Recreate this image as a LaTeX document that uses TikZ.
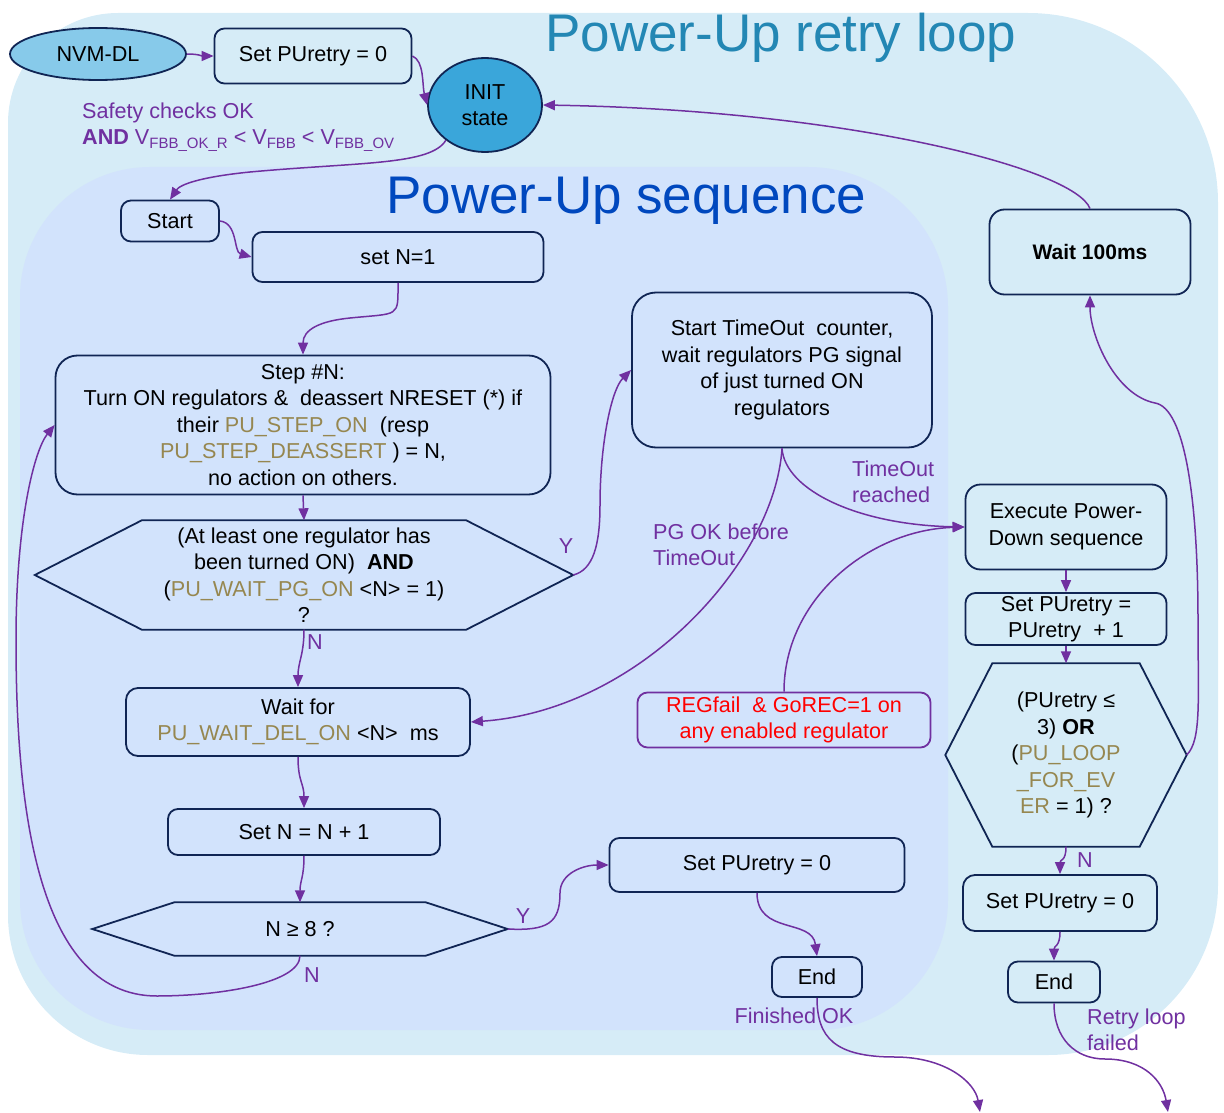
\documentclass[tikz,border=0pt]{standalone}
\usepackage{fontspec}
\setmainfont{Liberation Sans}
\usetikzlibrary{arrows.meta,calc,shapes.geometric}
\definecolor{outerbg}{RGB}{214,236,247}
\definecolor{innerbg}{RGB}{210,227,252}
\definecolor{navy}{RGB}{16,37,84}
\definecolor{purp}{RGB}{112,48,160}
\definecolor{olivetxt}{RGB}{150,135,80}
\definecolor{nvmfill}{RGB}{135,202,234}
\definecolor{initfill}{RGB}{58,166,218}
\definecolor{titleA}{RGB}{35,135,180}
\definecolor{titleB}{RGB}{0,72,190}
\newcommand\ol[1]{\textcolor{olivetxt}{#1}}
\newcommand\sbs[1]{\raisebox{-0.35ex}{\fontsize{15}{15}\selectfont #1}}
\begin{document}
\begin{tikzpicture}[x=1pt,y=-1pt,
  txt/.style={font=\fontsize{21.6}{26.5}\selectfont, align=center, inner sep=0pt},
  box/.style={txt, draw=navy, line width=1.8pt, rounded corners=10pt},
  hexline/.style={draw=navy, line width=1.8pt, line join=miter},
  lbl/.style={font=\fontsize{21.6}{26.5}\selectfont, text=purp, inner sep=0pt},
  conn/.style={draw=purp, line width=1.5pt, -{Triangle[length=12pt,width=10pt]}},
  title/.style={anchor=base west, inner sep=0pt, font=\fontsize{53}{60}\selectfont}
]
\useasboundingbox (0,0) rectangle (1224,1113);
% background regions
\fill[outerbg] (8,123) .. controls (8,62.3) and (57.3,13) .. (118,13) -- (1028,13)
  .. controls (1132.9,13) and (1218,98.1) .. (1218,203) -- (1218,885)
  .. controls (1218,978.8) and (1141.8,1055) .. (1048,1055) -- (148,1055)
  .. controls (70.7,1055) and (8,992.3) .. (8,915) -- cycle;
\fill[innerbg] (20,297) .. controls (20,225.2) and (78.2,167) .. (150,167) -- (808,167)
  .. controls (885.3,167) and (948,229.7) .. (948,307) -- (948,900)
  .. controls (948,971.8) and (889.8,1030) .. (818,1030) -- (150,1030)
  .. controls (78.2,1030) and (20,971.8) .. (20,900) -- cycle;
% titles
\node[title, text=titleA] (ttlA) at (545,52) {Power-Up retry loop};
\node[title, text=titleB] (ttlB) at (386,213) {Power-Up sequence};
% nodes
\node[box, ellipse, fill=nvmfill, minimum width=176pt, minimum height=52pt] (nvm) at (98,54) {NVM-DL};
\node[box, fill=outerbg, minimum width=197pt, minimum height=55pt] (set0) at (313,56) {Set PUretry = 0};
\node[box, ellipse, fill=initfill, minimum width=114pt, minimum height=94pt] (init) at (485,105) {INIT\\state};
\node[lbl, anchor=west, align=left] (safety) at (82,127) {Safety checks OK\\\textbf{AND} V\sbs{FBB\_OK\_R} < V\sbs{FBB} < V\sbs{FBB\_OV}};
\node[box, fill=innerbg, minimum width=98pt, minimum height=41pt] (start) at (170,221) {Start};
\node[box, fill=innerbg, minimum width=291pt, minimum height=50pt] (setn) at (398,257) {set N=1};
\node[box, fill=innerbg, rounded corners=22pt, minimum width=495pt, minimum height=139pt] (step) at (303,425)
  {Step \#N:\\Turn ON regulators \&~ deassert NRESET (*) if\\their \ol{PU\_STEP\_ON}~ (resp\\\ol{PU\_STEP\_DEASSERT}~) = N,\\no action on others.};
\node[txt, minimum width=538pt, minimum height=109pt] (hex1) at (304,575)
  {(At least one regulator has\\been turned ON)~ \textbf{AND}\\(\ol{PU\_WAIT\_PG\_ON} <N> = 1)\\?};
\draw[hexline] (hex1.west) -- ($(hex1.north west)+(107,0)$) -- ($(hex1.north east)+(-107,0)$) -- (hex1.east)
  -- ($(hex1.south east)+(-107,0)$) -- ($(hex1.south west)+(107,0)$) -- cycle;
\node[box, fill=innerbg, rounded corners=24pt, minimum width=300pt, minimum height=155pt] (timeout) at (782,370)
  {Start TimeOut~ counter,\\wait regulators PG signal\\of just turned ON\\regulators};
\node[box, fill=innerbg, rounded corners=12pt, minimum width=344pt, minimum height=68pt] (waitfor) at (298,722)
  {Wait for\\\ol{PU\_WAIT\_DEL\_ON} <N>~ ms};
\node[box, fill=innerbg, minimum width=272pt, minimum height=46pt] (setnn) at (304,832) {Set N = N + 1};
\node[txt, minimum width=415pt, minimum height=53pt] (hex2) at (300,929) {N ≥ 8 ?};
\draw[hexline] (hex2.west) -- ($(hex2.north west)+(82,0)$) -- ($(hex2.north east)+(-82,0)$) -- (hex2.east)
  -- ($(hex2.south east)+(-82,0)$) -- ($(hex2.south west)+(82,0)$) -- cycle;
\node[box, fill=innerbg, minimum width=295pt, minimum height=54pt] (set0b) at (757,865) {Set PUretry = 0};
\node[box, fill=innerbg, minimum width=90pt, minimum height=40pt] (end1) at (817,977) {End};
\node[box, fill=innerbg, draw=purp, text=red, minimum width=293pt, minimum height=55pt] (regfail) at (784,720)
  {REGfail~ \& GoREC=1 on\\any enabled regulator};
\node[box, fill=outerbg, rounded corners=15pt, minimum width=201pt, minimum height=85pt,
  font=\fontsize{21}{26.5}\selectfont\bfseries] (wait100) at (1090,252) {Wait 100ms};
\node[box, fill=outerbg, rounded corners=15pt, minimum width=201pt, minimum height=85pt] (exec) at (1066,527)
  {Execute Power-\\Down sequence};
\node[box, fill=outerbg, minimum width=201pt, minimum height=52pt] (setp1) at (1066,619) {Set PUretry =\\PUretry~ + 1};
\node[txt, minimum width=241pt, minimum height=183pt] (hex3) at (1066,755)
  {(PUretry ≤\\3) \textbf{OR}\\(\ol{PU\_LOOP}\\\ol{\_FOR\_EV}\\\ol{ER} = 1) ?};
\draw[hexline] (hex3.west) -- ($(hex3.north west)+(47,0)$) -- ($(hex3.north east)+(-47,0)$) -- (hex3.east)
  -- ($(hex3.south east)+(-47,0)$) -- ($(hex3.south west)+(47,0)$) -- cycle;
\node[box, fill=outerbg, rounded corners=12pt, minimum width=194pt, minimum height=56pt] (set0r) at (1060,903) {Set PUretry = 0};
\node[box, fill=outerbg, minimum width=92pt, minimum height=41pt] (end2) at (1054,982) {End};
\coordinate (exit1) at (980,1112);
\coordinate (exit2) at (1168,1112);
% labels
\node[lbl] (y1) at (566,546) {Y};
\node[lbl] (n1) at (315,642) {N};
\node[lbl, anchor=west, align=left] (pgok) at (653,545) {PG OK before\\TimeOut};
\node[lbl, anchor=west, align=left] (toreach) at (852,482) {TimeOut\\reached};
\node[lbl] (y2) at (523,916) {Y};
\node[lbl] (n2) at (312,975) {N};
\node[lbl] (finok) at (794,1016) {Finished OK};
\node[lbl, anchor=west, align=left] (rfail) at (1087,1030) {Retry loop\\failed};
\node[lbl] (n3) at (1085,860) {N};
% connectors
\draw[conn] (nvm.east) .. controls +(12,0) and +(-12,0) .. (set0.west);
\draw[conn] (set0.east) .. controls +(12,5) and +(-5,-20) .. (init.west);
\draw[conn] (init.222) .. controls +(-15,25) and +(110,-10) .. (250,172) .. controls +(-50,5) and +(10,-15) .. (start.north);
\draw[conn] (wait100.north) .. controls +(-15,-40) and +(305,5) .. (init.east);
\draw[conn] (start.east) .. controls +(18,2) and +(-18,-5) .. (setn.west);
\draw[conn] (setn.south) .. controls +(0,35) and +(50,-5) .. (350,318) .. controls +(-30,3) and +(0,-25) .. (step.north);
\draw[conn] (step.south) -- (hex1.north);
\draw[conn] (hex1.east) .. controls +(20,-5) and +(0,40) .. (600,505) .. controls +(0,-60) and +(-20,20) .. (timeout.west);
\draw[conn] (hex1.south) .. controls +(0,25) and +(0,-25) .. (waitfor.north);
\draw[conn] (timeout.south) .. controls +(-7,112) and +(170,-12) .. (waitfor.east);
\draw[conn] (timeout.south) .. controls +(3,42) and +(-106,-2) .. (exec.west);
\draw[conn] (regfail.north) .. controls +(0,-92) and +(-96,3) .. (exec.west);
\draw[conn] (waitfor.south) .. controls +(0,25) and +(0,-25) .. (setnn.north);
\draw[conn] (setnn.south) .. controls +(0,22) and +(0,-22) .. (hex2.north);
\draw[conn] (hex2.east) .. controls +(40,2) and +(0,30) .. (560,893) .. controls +(0,-20) and +(-25,0) .. (set0b.west);
\draw[conn] (hex2.south) .. controls +(0,28) and +(60,0) .. (157,996) .. controls +(-125,0) and +(0,150) .. (16,640)
  .. controls +(0,-120) and +(-20,25) .. (step.west);
\draw[conn] (set0b.south) .. controls +(0,42) and +(-5,-38) .. (end1.north);
\draw[conn] (end1.south) .. controls +(0,40) and +(-60,0) .. (895,1057) .. controls +(50,0) and +(-5,-30) .. (exit1);
\draw[conn] (exec.south) -- (setp1.north);
\draw[conn] (setp1.south) -- (hex3.north);
\draw[conn] (hex3.east) .. controls +(15,-15) and +(0,80) .. (1198,620) .. controls +(0,-120) and +(30,5) .. (1155,403)
  .. controls +(-40,-8) and +(0,40) .. (wait100.south);
\draw[conn] (hex3.south) .. controls +(0,15) and +(0,-15) .. (set0r.north);
\draw[conn] (set0r.south) .. controls +(0,15) and +(0,-15) .. (end2.north);
\draw[conn] (end2.south) .. controls +(0,35) and +(-30,0) .. (1105,1059) .. controls +(40,0) and +(-5,-30) .. (exit2);
\end{tikzpicture}
\end{document}
